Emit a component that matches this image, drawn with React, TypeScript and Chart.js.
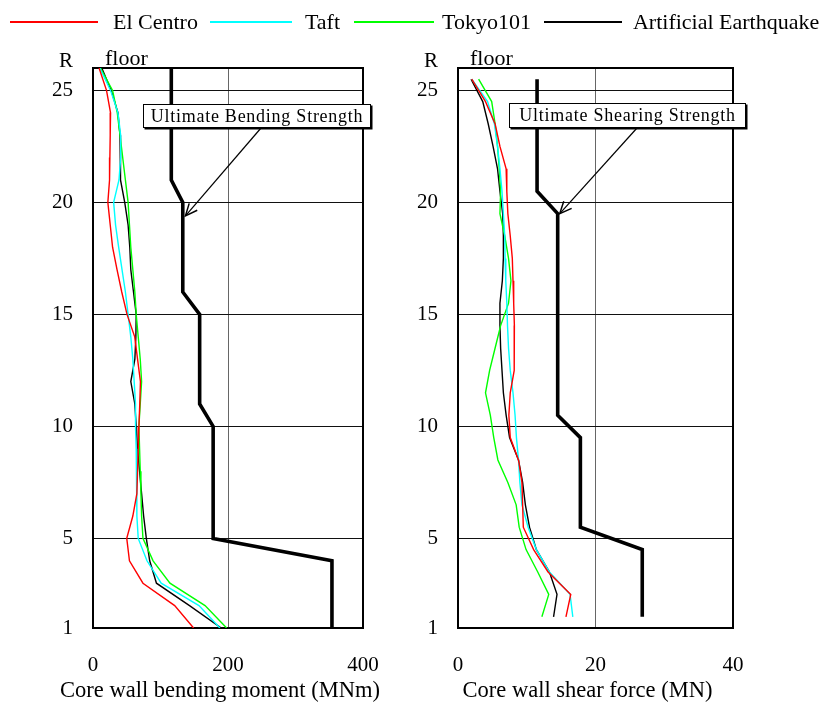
import React, { useEffect, useRef } from 'react';
import { Chart, registerables } from 'chart.js';

Chart.register(...registerables);

const FONT = "'Liberation Serif', 'Times New Roman', serif";

// ---------- data ----------
const seriesNames = ['El Centro', 'Taft', 'Tokyo101', 'Artificial Earthquake'];
const seriesColors = ['#ff0000', '#00ffff', '#00ff00', '#000000'];

const floorTicks = [1, 5, 10, 15, 20, 25];
const roofLabel = 'R';
const floorLabel = 'floor';

// bending moment is given at each floor level (26 = R ... 1)
const momentFloors = [26, 25, 24, 23, 22, 21, 20, 19, 18, 17, 16, 15, 14, 13, 12, 11, 10, 9, 8, 7, 6, 5, 4, 3, 2, 1];
const momentElCentro = [9, 20, 26, 25.5, 25, 24.5, 22, 25.5, 29, 35.6, 42.6, 50.4, 61.8, 66, 70.3, 69.3, 68, 67, 66, 65, 59, 50, 54, 74, 121, 149];
const momentTaft = [10, 26, 37, 41, 41, 38.5, 30.6, 33.4, 38, 43, 48, 52, 56, 59, 61, 63, 63, 64, 65, 65, 65, 67, 80, 101, 157, 188];
const momentTokyo = [11, 29, 36, 40, 44, 48, 52, 54, 56, 59, 62, 64, 67, 70, 72, 70, 68, 69, 70, 71, 72, 74, 89, 114, 166, 198];
const momentArtificial = [13, 27, 37, 40, 40.5, 41, 47, 52, 54.5, 56, 60, 64, 63.5, 62, 56, 62, 64, 66, 69, 72, 75, 79, 84, 94, 143, 190];
const bendingStrengthFloors = [26, 21, 20, 16, 15, 11, 10, 5, 4, 1];
const bendingStrength = [116, 116, 133, 133, 158, 158, 178, 178, 354, 354];

// shear force is given at mid-storey levels
const shearFloors = [25.5, 24.5, 23.5, 22.5, 21.5, 20.5, 19.5, 18.5, 17.5, 16.5, 15.5, 14.5, 13.5, 12.5, 11.5, 10.5, 9.5, 8.5, 7.5, 6.5, 5.5, 4.5, 3.5, 2.5, 1.5];
const shearElCentro = [2.0, 4.0, 5.4, 6.1, 7.0, 7.1, 7.25, 7.6, 7.9, 8.0, 8.1, 8.2, 8.2, 8.15, 7.6, 7.4, 7.6, 8.8, 9.3, 9.4, 9.5, 11.0, 13.1, 16.4, 15.7];
const shearTaft = [2.0, 4.3, 5.3, 5.75, 6.1, 6.4, 6.6, 6.8, 6.85, 6.95, 7.1, 7.2, 7.35, 7.6, 8.0, 8.3, 8.5, 8.8, 9.0, 9.3, 10.2, 11.4, 13.3, 16.3, 16.7];
const shearTokyo = [3.0, 4.9, 5.4, 5.75, 6.0, 6.2, 6.1, 6.8, 7.35, 7.7, 7.35, 6.2, 5.4, 4.6, 4.0, 4.7, 5.2, 5.8, 7.25, 8.46, 8.9, 9.9, 11.6, 13.2, 12.2];
const shearArtificial = [1.9, 3.6, 4.4, 5.1, 5.75, 6.1, 6.5, 6.6, 6.6, 6.45, 6.1, 6.1, 6.2, 6.4, 6.6, 7.0, 7.5, 8.8, 9.4, 9.8, 10.4, 11.4, 13.3, 14.4, 13.9];
const shearStrengthFloors = [25.5, 20.5, 19.5, 10.5, 9.5, 5.5, 4.5, 1.5];
const shearStrength = [11.5, 11.5, 14.5, 14.5, 17.8, 17.8, 26.8, 26.8];

const momentTitle = 'Core wall bending moment (MNm)';
const shearTitle = 'Core wall shear force (MN)';
const momentNote = 'Ultimate Bending Strength';
const shearNote = 'Ultimate Shearing Strength';
const momentNoteTarget = { x: 137, y: 19.4 };
const shearNoteTarget = { x: 14.8, y: 19.5 };

// ---------- helpers ----------
const toPts = (floors: number[], vals: number[]) => floors.map((f, i) => ({ x: vals[i], y: f }));

const framePlugin = {
  id: 'frame',
  beforeDatasetsDraw(chart: any) {
    const { ctx, chartArea } = chart;
    const { left, top, right, bottom } = chartArea;
    ctx.save();
    ctx.strokeStyle = '#000';
    ctx.lineWidth = 2;
    ctx.strokeRect(left, top, right - left, bottom - top);
    ctx.restore();
  },
};

function makeTextPlugin(title: string) {
  return {
    id: 'texts',
    afterDraw(chart: any) {
      const { ctx, chartArea } = chart;
      ctx.save();
      ctx.fillStyle = '#000';
      ctx.font = `21px ${FONT}`;
      ctx.textBaseline = 'middle';
      ctx.textAlign = 'right';
      ctx.fillText(roofLabel, chartArea.left - 20, chartArea.top - 7);
      ctx.font = `22px ${FONT}`;
      ctx.textAlign = 'left';
      ctx.fillText(floorLabel, chartArea.left + 12, chartArea.top - 9);
      // x-axis title (drawn without width limit)
      ctx.font = `22.5px ${FONT}`;
      ctx.textAlign = 'center';
      ctx.fillText(title, (chartArea.left + chartArea.right) / 2 - 8, chartArea.bottom + 63);
      ctx.restore();
    },
  };
}

function makeNotePlugin(text: string, target: { x: number; y: number }, box: { dx: number; dy: number; w: number; h: number; ax: number }) {
  return {
    id: 'note',
    afterDatasetsDraw(chart: any) {
      const { ctx, chartArea, scales } = chart;
      const bx = chartArea.left + box.dx;
      const by = chartArea.top + box.dy;
      const sx = bx + box.ax;
      const sy = by + box.h;
      const tx = scales.x.getPixelForValue(target.x);
      const ty = scales.y.getPixelForValue(target.y);
      ctx.save();
      ctx.strokeStyle = '#000';
      ctx.lineWidth = 1.2;
      ctx.beginPath();
      ctx.moveTo(sx, sy);
      ctx.lineTo(tx, ty);
      ctx.stroke();
      const ang = Math.atan2(ty - sy, tx - sx);
      const len = 13;
      const spread = 0.42;
      ctx.lineWidth = 1.5;
      ctx.beginPath();
      ctx.moveTo(tx - len * Math.cos(ang - spread), ty - len * Math.sin(ang - spread));
      ctx.lineTo(tx, ty);
      ctx.lineTo(tx - len * Math.cos(ang + spread), ty - len * Math.sin(ang + spread));
      ctx.stroke();
      ctx.fillStyle = '#000';
      ctx.fillRect(bx + 1.5, by + 1.5, box.w, box.h);
      ctx.fillStyle = '#fff';
      ctx.fillRect(bx, by, box.w, box.h);
      ctx.lineWidth = 1;
      ctx.strokeRect(bx + 0.5, by + 0.5, box.w - 1, box.h - 1);
      ctx.fillStyle = '#000';
      ctx.font = `18px ${FONT}`;
      try { (ctx as any).letterSpacing = '0.75px'; } catch (e) {}
      ctx.textAlign = 'center';
      ctx.textBaseline = 'middle';
      ctx.fillText(text, bx + box.w / 2, by + box.h / 2 + 1);
      ctx.restore();
    },
  };
}

function buildConfig(opts: {
  series: number[][];
  floors: number[];
  strengthFloors: number[];
  strength: number[];
  xMax: number;
  xStep: number;
  title: string;
  yAxisWidth: number;
  padRight: number;
  note: any;
}) {
  const datasets: any[] = opts.series.map((vals, i) => ({
    label: seriesNames[i],
    data: toPts(opts.floors, vals),
    borderColor: seriesColors[i],
    backgroundColor: seriesColors[i],
    borderWidth: 1.4,
    showLine: true,
    pointRadius: 0,
    fill: false,
  }));
  datasets.push({
    label: 'strength',
    data: toPts(opts.strengthFloors, opts.strength),
    borderColor: '#000',
    backgroundColor: '#000',
    borderWidth: 3.6,
    showLine: true,
    pointRadius: 0,
    fill: false,
    clip: false,
  });
  return {
    type: 'scatter',
    data: { datasets },
    options: {
      animation: false,
      responsive: false,
      maintainAspectRatio: false,
      events: [],
      layout: { padding: { top: 68, right: opts.padRight, left: 0, bottom: 0 } },
      plugins: { legend: { display: false }, tooltip: { enabled: false } },
      scales: {
        x: {
          type: 'linear',
          min: 0,
          max: opts.xMax,
          ticks: { stepSize: opts.xStep, color: '#000', font: { family: FONT, size: 21 }, padding: 25, maxRotation: 0 },
          grid: { color: '#666', lineWidth: 1, drawTicks: false },
          border: { display: false },
          title: { display: false, text: opts.title },
          afterFit: (s: any) => { s.height = 81; },
        },
        y: {
          type: 'linear',
          min: 1,
          max: 26,
          afterBuildTicks: (s: any) => { s.ticks = floorTicks.map((v) => ({ value: v })); },
          ticks: { color: '#000', font: { family: FONT, size: 21 }, padding: 20 },
          grid: { color: '#111', lineWidth: 1, drawTicks: false },
          border: { display: false },
          afterFit: (s: any) => { s.width = opts.yAxisWidth; },
        },
      },
    },
    plugins: [framePlugin, makeTextPlugin(opts.title), opts.note],
  };
}

const LEFT_W = 405;
const RIGHT_X = 405;
const RIGHT_W = 426;
const H = 709;

// legend layout (px): line lengths and spacing
const legendLineW = [88, 82, 80, 78];
const legendGapAfterLine = [15, 13, 8, 11];
const legendGapAfterText = [12, 14, 13, 0];

export default function App() {
  const leftRef = useRef<HTMLCanvasElement>(null);
  const rightRef = useRef<HTMLCanvasElement>(null);

  useEffect(() => {
    const c1 = new Chart(leftRef.current as HTMLCanvasElement, buildConfig({
      series: [momentElCentro, momentTaft, momentTokyo, momentArtificial],
      floors: momentFloors,
      strengthFloors: bendingStrengthFloors,
      strength: bendingStrength,
      xMax: 400,
      xStep: 200,
      title: momentTitle,
      yAxisWidth: 93,
      padRight: LEFT_W - 363,
      note: makeNotePlugin(momentNote, momentNoteTarget, { dx: 50, dy: 36, w: 228, h: 24, ax: 118 }),
    }) as any);
    const c2 = new Chart(rightRef.current as HTMLCanvasElement, buildConfig({
      series: [shearElCentro, shearTaft, shearTokyo, shearArtificial],
      floors: shearFloors,
      strengthFloors: shearStrengthFloors,
      strength: shearStrength,
      xMax: 40,
      xStep: 20,
      title: shearTitle,
      yAxisWidth: 458 - RIGHT_X,
      padRight: RIGHT_W - (733 - RIGHT_X),
      note: makeNotePlugin(shearNote, shearNoteTarget, { dx: 51, dy: 35, w: 237, h: 25, ax: 128 }),
    }) as any);
    return () => {
      c1.destroy();
      c2.destroy();
    };
  }, []);

  return (
    <div style={{ position: 'absolute', left: 0, top: 0, width: 831, height: H, background: '#fff', overflow: 'hidden' }}>
      <canvas ref={leftRef} width={LEFT_W} height={H} style={{ position: 'absolute', left: 0, top: 0, width: LEFT_W, height: H, display: 'block' }} />
      <canvas ref={rightRef} width={RIGHT_W} height={H} style={{ position: 'absolute', left: RIGHT_X, top: 0, width: RIGHT_W, height: H, display: 'block' }} />
      <div style={{ position: 'absolute', left: 10, top: 0, height: 43, display: 'flex', alignItems: 'center', fontFamily: FONT, fontSize: 22, lineHeight: '22px', color: '#000', whiteSpace: 'nowrap' }}>
        {seriesNames.map((name, i) => (
          <React.Fragment key={name}>
            <span style={{ display: 'inline-block', width: legendLineW[i], height: 2, background: seriesColors[i], marginRight: legendGapAfterLine[i] }} />
            <span style={{ marginRight: legendGapAfterText[i] }}>{name}</span>
          </React.Fragment>
        ))}
      </div>
    </div>
  );
}
